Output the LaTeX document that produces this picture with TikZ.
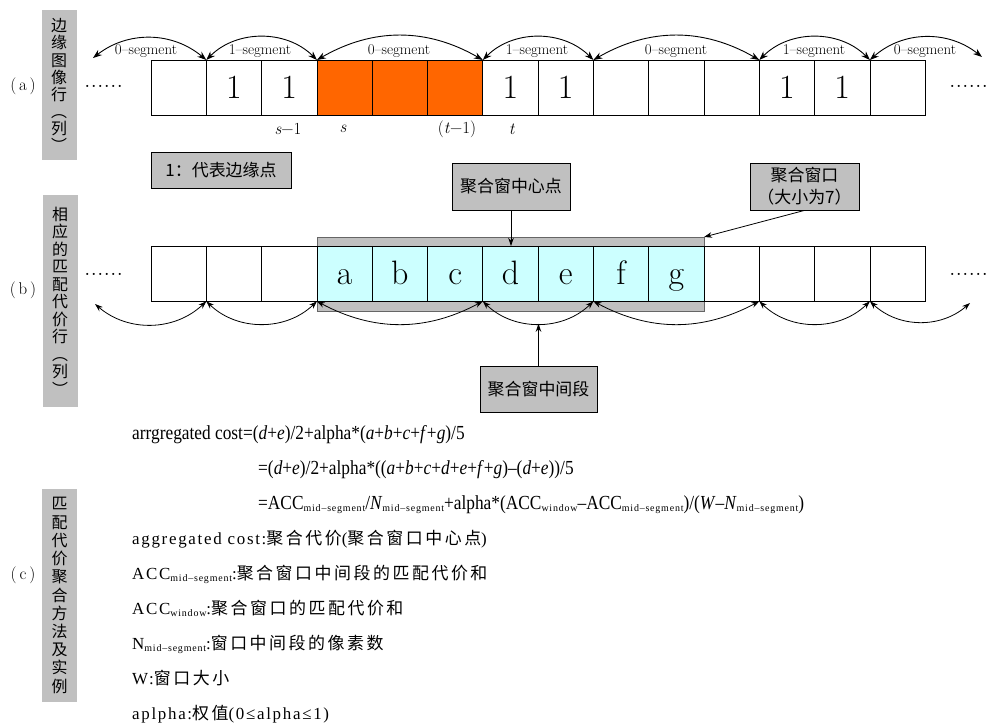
\documentclass[tikz,border=0pt]{standalone}
\usepackage{fontspec}
\newfontfamily\cjk{Noto Sans CJK SC}
\newfontfamily\cjkd[LetterSpace=15]{Noto Sans CJK SC}
\newfontfamily\frm[FakeStretch=0.87]{Liberation Serif}
\newfontfamily\dfn[LetterSpace=10]{Liberation Serif}
\newfontfamily\subf[LetterSpace=8]{Liberation Serif}
\usetikzlibrary{arrows.meta,calc}
\definecolor{orng}{HTML}{FF6600}
\definecolor{cyl}{HTML}{CCFFFF}
\definecolor{gbox}{HTML}{C0C0C0}
\newcommand\sbs[1]{\raisebox{-2bp}{\subf\fontsize{10}{10}\selectfont #1}}
\tikzset{
  cell/.style={draw=black, line width=0.8bp, minimum width=55.3bp, minimum height=55.3bp,
    inner sep=0pt, outer sep=0pt, anchor=north west, text height=25.5bp, text depth=3.5bp,
    font=\fontsize{34}{34}\selectfont},
  winbox/.style={fill=gbox, draw=black!60, line width=0.8bp, anchor=north west,
    minimum width=387bp, minimum height=74bp, inner sep=0pt, outer sep=0pt},
  arc/.style={line width=0.9bp, {Stealth[length=9bp,width=6.5bp]}-{Stealth[length=9bp,width=6.5bp]}},
  barc/.style={line width=0.8bp, {Stealth[length=8bp,width=5.5bp]}-{Stealth[length=8bp,width=5.5bp]}},
  parr/.style={line width=0.8bp, -{Stealth[length=8bp,width=5.5bp]}},
  seglbl/.style={font=\fontsize{15}{15}\selectfont, inner sep=0pt},
  sublbl/.style={font=\fontsize{17}{17}\selectfont, inner sep=0pt},
  lbox/.style={draw=black, fill=gbox, line width=0.8bp, inner sep=0pt, align=center,
    font=\cjk\fontsize{17}{22}\selectfont},
  sidebar/.style={fill=gbox, inner sep=0pt, minimum width=35bp, align=center},
  plab/.style={font=\fontsize{17}{17}\selectfont, inner sep=0pt},
  dotrow/.style={font=\fontsize{26}{26}\selectfont, inner sep=0pt, anchor=base west},
  frml/.style={font=\frm\fontsize{20}{20}\selectfont, inner sep=0pt, anchor=base west},
  defl/.style={font=\dfn\fontsize{17}{20}\selectfont, inner sep=0pt, anchor=base west}
}
\begin{document}
\begin{tikzpicture}[x=1bp,y=-1bp]
\useasboundingbox (0,0) rectangle (989,723);

% side bars
\node[sidebar, minimum height=150bp, font=\cjk\fontsize{16}{17.1}\selectfont] (barA) at (59,85)
  {边\\缘\\图\\像\\行\\︵\\列\\︶};
\node[sidebar, minimum height=212bp, font=\cjk\fontsize{16}{17.6}\selectfont] (barB) at (60,301)
  {相\\应\\的\\匹\\配\\代\\价\\行\\︵\\列\\︶};
\node[sidebar, minimum height=213bp, font=\cjk\fontsize{16}{18.3}\selectfont] (barC) at (59.5,595.5)
  {匹\\配\\代\\价\\聚\\合\\方\\法\\及\\实\\例};

\node[plab] (pa) at (23,86) {(\,a\,)};
\node[plab] (pb) at (23,290) {(\,b\,)};
\node[plab] (pc) at (23,575) {(\,c\,)};

% row (a)
\foreach \i/\t/\c in {0//white,1/1/white,2/1/white,3//orng,4//orng,5//orng,6/1/white,7/1/white,
  8//white,9//white,10//white,11/1/white,12/1/white,13//white}
  \node[cell, fill=\c] (a\i) at ({151+55.3*\i},60) {\t};

\node[dotrow] (da1) at (84,88) {......};
\node[dotrow] (da2) at (949,88) {......};

\coordinate (aL) at (93,58);
\coordinate (aR) at (982,57);
\draw[arc] (aL) to[bend left=39] (a1.north west);
\draw[arc] (a1.north west) to[bend left=45] (a3.north west);
\draw[arc] (a3.north west) to[bend left=30] (a6.north west);
\draw[arc] (a6.north west) to[bend left=45] (a8.north west);
\draw[arc] (a8.north west) to[bend left=30] (a11.north west);
\draw[arc] (a11.north west) to[bend left=45] (a13.north west);
\draw[arc] (a13.north west) to[bend left=40] (aR);

\node[seglbl] (sg1) at (146,51) {0–segment};
\node[seglbl] (sg2) at (260,51) {1–segment};
\node[seglbl] (sg3) at (399,51) {0–segment};
\node[seglbl] (sg4) at (537,51) {1–segment};
\node[seglbl] (sg5) at (676,51) {0–segment};
\node[seglbl] (sg6) at (814,51) {1–segment};
\node[seglbl] (sg7) at (925,51) {0–segment};

\node[sublbl] (lsm) at (288,129) {\textit{s}−1};
\node[sublbl] (ls) at (343,129) {\textit{s}};
\node[sublbl] (ltm) at (457,129) {(\textit{t}−1)};
\node[sublbl] (lt) at (512,129) {\textit{t}};

% legend box
\node[lbox, minimum width=140bp, minimum height=36bp] (key) at (221,170) {1{\cjk ：代表边缘点}};

% row (b)
\node[winbox] (win) at (317,237) {};
\foreach \i/\t/\c in {0//white,1//white,2//white,3/a/cyl,4/b/cyl,5/c/cyl,6/d/cyl,7/e/cyl,
  8/f/cyl,9/g/cyl,10//white,11//white,12//white,13//white}
  \node[cell, fill=\c] (b\i) at ({151+55.3*\i},246) {\t};

\node[dotrow] (db1) at (84,275) {......};
\node[dotrow] (db2) at (949,275) {......};

\coordinate (bL) at (95,304);
\coordinate (bR) at (970,303);
\draw[barc] (bL) to[bend right=42] (b1.south west);
\draw[barc] (b1.south west) to[bend right=44] (b3.south west);
\draw[barc] (b3.south west) to[bend right=28] (b6.south west);
\draw[barc] (b6.south west) to[bend right=44] node[coordinate, pos=0.5] (mseg) {} (b8.south west);
\draw[barc] (b8.south west) to[bend right=28] (b11.south west);
\draw[barc] (b11.south west) to[bend right=44] (b13.south west);
\draw[barc] (b13.south west) to[bend right=42] (bR);

\node[lbox, minimum width=118bp, minimum height=47bp] (ctr) at (511,186.5) {聚合窗中心点};
\node[lbox, minimum width=109bp, minimum height=47bp] (wlab) at (804.5,186.5) {聚合窗口\\（大小为7）};
\node[lbox, minimum width=117bp, minimum height=46bp] (seg) at (538.5,389) {聚合窗中间段};

\draw[parr] (ctr.south) -- (ctr.south |- b6.north);
\draw[parr] (wlab.south) -- (win.north east);
\draw[parr] (seg.north) -- (seg.north |- mseg);

% formulas (c)
\node[frml] (f1) at (132,439) {arrgregated cost=(\textit{d}+\textit{e})/2+alpha*(\textit{a}+\textit{b}+\textit{c}+\textit{f}+\textit{g})/5};
\node[frml] (f2) at (258,474) {=(\textit{d}+\textit{e})/2+alpha*((\textit{a}+\textit{b}+\textit{c}+\textit{d}+\textit{e}+\textit{f}+\textit{g})–(\textit{d}+\textit{e}))/5};
\node[frml] (f3) at (258,509) {=ACC\sbs{mid–segment}/\textit{N}\sbs{mid–segment}+alpha*(ACC\sbs{window}–ACC\sbs{mid–segment})/(\textit{W}–\textit{N}\sbs{mid–segment})};

\node[defl] (d1) at (132,544) {aggregated cost:{\cjkd 聚合代价}({\cjkd 聚合窗口中心点})};
\node[defl] (d2) at (132,579) {ACC\sbs{mid–segment}:{\cjkd 聚合窗口中间段的匹配代价和}};
\node[defl] (d3) at (132,614) {ACC\sbs{window}:{\cjkd 聚合窗口的匹配代价和}};
\node[defl] (d4) at (132,649) {N\sbs{mid–segment}:{\cjkd 窗口中间段的像素数}};
\node[defl] (d5) at (132,684) {W:{\cjkd 窗口大小}};
\node[defl] (d6) at (132,719) {aplpha:{\cjkd 权值}(0≤alpha≤1)};
\end{tikzpicture}
\end{document}
